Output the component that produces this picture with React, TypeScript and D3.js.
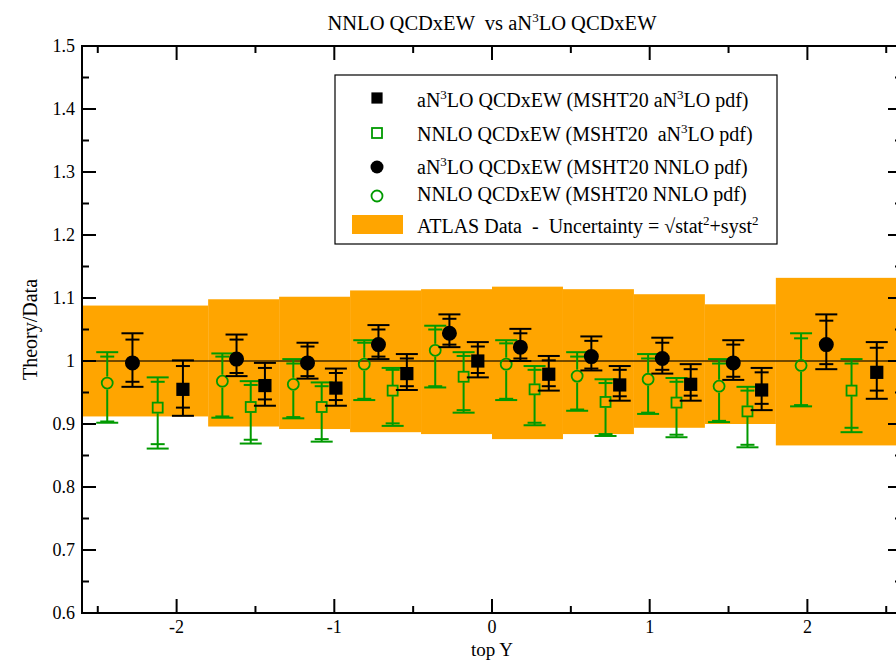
import React from 'react';
import * as d3 from 'd3';

const width = 896;
const height = 660;
const frame = { left: 82, right: 902, top: 46, bottom: 613 };
const font = '"Liberation Serif", "DejaVu Serif", serif';
const green = '#009a00';

// rapidity bins of the measurement
const binEdges = [-2.6, -1.8, -1.35, -0.9, -0.45, 0, 0.45, 0.9, 1.35, 1.8, 2.6];
// ATLAS data uncertainty band (theory/data = 1 +- total)
const bandHi = [1.088, 1.098, 1.102, 1.112, 1.114, 1.118, 1.114, 1.106, 1.09, 1.132];
const bandLo = [0.912, 0.896, 0.892, 0.887, 0.884, 0.876, 0.884, 0.894, 0.9, 0.866];

// [value, outer hi, inner hi, inner lo, outer lo] per bin
const nnloNnloPdf = [
  [0.965, 1.014, 1.007, 0.904, 0.902],
  [0.968, 1.012, 1.007, 0.912, 0.91],
  [0.963, 1.003, 0.996, 0.911, 0.909],
  [0.995, 1.033, 1.029, 0.94, 0.938],
  [1.017, 1.056, 1.05, 0.96, 0.958],
  [0.995, 1.033, 1.028, 0.94, 0.938],
  [0.976, 1.014, 1.007, 0.923, 0.921],
  [0.971, 1.011, 1.004, 0.918, 0.916],
  [0.96, 1.003, 0.996, 0.905, 0.903],
  [0.993, 1.044, 1.036, 0.93, 0.928]
];
const an3loNnloPdf = [
  [0.997, 1.044, 1.034, 0.967, 0.959],
  [1.003, 1.042, 1.034, 0.981, 0.976],
  [0.997, 1.029, 1.023, 0.976, 0.972],
  [1.026, 1.057, 1.05, 1.007, 1.003],
  [1.044, 1.074, 1.067, 1.026, 1.022],
  [1.022, 1.051, 1.044, 1.004, 1.0],
  [1.007, 1.039, 1.032, 0.988, 0.985],
  [1.004, 1.037, 1.029, 0.986, 0.98],
  [0.997, 1.033, 1.026, 0.975, 0.97],
  [1.026, 1.074, 1.064, 0.995, 0.987]
];
const nnloAn3loPdf = [
  [0.926, 0.974, 0.967, 0.868, 0.861],
  [0.927, 0.968, 0.962, 0.875, 0.869],
  [0.927, 0.966, 0.96, 0.876, 0.872],
  [0.953, 0.989, 0.986, 0.901, 0.897],
  [0.975, 1.014, 1.008, 0.922, 0.918],
  [0.955, 0.992, 0.986, 0.902, 0.898],
  [0.935, 0.971, 0.965, 0.884, 0.881],
  [0.934, 0.973, 0.967, 0.883, 0.879],
  [0.92, 0.959, 0.953, 0.867, 0.863],
  [0.953, 1.003, 0.996, 0.894, 0.887]
];
const an3loAn3loPdf = [
  [0.955, 1.001, 0.992, 0.926, 0.913],
  [0.961, 0.997, 0.989, 0.939, 0.929],
  [0.957, 0.988, 0.981, 0.938, 0.929],
  [0.98, 1.011, 1.004, 0.96, 0.954],
  [1.0, 1.03, 1.023, 0.981, 0.974],
  [0.979, 1.008, 1.001, 0.96, 0.953],
  [0.962, 0.992, 0.986, 0.944, 0.937],
  [0.963, 0.995, 0.987, 0.945, 0.937],
  [0.954, 0.989, 0.982, 0.932, 0.922],
  [0.982, 1.03, 1.021, 0.953, 0.94]
];

const xMajor = [-2, -1, 0, 1, 2];
const xMinor = [-2.5, -1.5, -0.5, 0.5, 1.5, 2.5];
const yMajor = [0.6, 0.7, 0.8, 0.9, 1.0, 1.1, 1.2, 1.3, 1.4, 1.5];
const yMinor = [0.65, 0.75, 0.85, 0.95, 1.05, 1.15, 1.25, 1.35, 1.45];

const titleText = 'NNLO QCDxEW  vs aN^3LO QCDxEW';
const legendTexts = [
  'aN^3LO QCDxEW (MSHT20 aN^3LO pdf)',
  'NNLO QCDxEW (MSHT20  aN^3LO pdf)',
  'aN^3LO QCDxEW (MSHT20 NNLO pdf)',
  'NNLO QCDxEW (MSHT20 NNLO pdf)',
  'ATLAS Data  -  Uncertainty = √stat^2+syst^2'
];

const x = d3.scaleLinear().domain([-2.6, 2.6]).range([frame.left, frame.right]);
const y = d3.scaleLinear().domain([0.6, 1.5]).range([frame.bottom, frame.top]);

// slot = position inside the bin, in fifths
const series = [
  { key: 'nnloNnlo', pts: nnloNnloPdf, color: green, shape: 'circle', filled: false, slot: 1 },
  { key: 'an3loNnlo', pts: an3loNnloPdf, color: '#000', shape: 'circle', filled: true, slot: 2 },
  { key: 'nnloAn3lo', pts: nnloAn3loPdf, color: green, shape: 'square', filled: false, slot: 3 },
  { key: 'an3loAn3lo', pts: an3loAn3loPdf, color: '#000', shape: 'square', filled: true, slot: 4 }
];

function Marker({ cx, cy, shape, filled, color }) {
  if (shape === 'circle') {
    return filled ? (
      <circle cx={cx} cy={cy} r={6.5} fill={color} />
    ) : (
      <circle cx={cx} cy={cy} r={5.5} fill="none" stroke={color} strokeWidth={1.8} />
    );
  }
  return filled ? (
    <rect x={cx - 5.6} y={cy - 5.6} width={11.2} height={11.2} fill={color} />
  ) : (
    <rect x={cx - 5} y={cy - 5} width={10} height={10} fill="none" stroke={color} strokeWidth={1.8} />
  );
}

// "a^3b" -> tspans with the single character after ^ raised
function rich(s: string) {
  const parts: { t: string; sup: boolean }[] = [];
  let buf = '';
  for (let i = 0; i < s.length; i++) {
    if (s[i] === '^') {
      if (buf) parts.push({ t: buf, sup: false });
      parts.push({ t: s[i + 1], sup: true });
      buf = '';
      i++;
    } else buf += s[i];
  }
  if (buf) parts.push({ t: buf, sup: false });
  let raised = false;
  return parts.map((p, i) => {
    let dy = 0;
    if (p.sup && !raised) dy = -8;
    if (!p.sup && raised) dy = 8;
    raised = p.sup;
    return (
      <tspan key={i} dy={dy} fontSize={p.sup ? 13 : undefined}>
        {p.t}
      </tspan>
    );
  });
}

const legendRows = [
  { shape: 'square', filled: true, color: '#000', y: 98, ty: 107 },
  { shape: 'square', filled: false, color: green, y: 133, ty: 141 },
  { shape: 'circle', filled: true, color: '#000', y: 167, ty: 174 },
  { shape: 'circle', filled: false, color: green, y: 196, ty: 201 }
];

export default function App() {
  const bins = d3.range(binEdges.length - 1);
  return (
    <svg
      width={width}
      height={height}
      style={{ position: 'absolute', left: 0, top: 0, background: '#fff' }}
      fontFamily={font}
    >
      <defs>
        <clipPath id="plot">
          <rect x={frame.left} y={frame.top} width={frame.right - frame.left} height={frame.bottom - frame.top} />
        </clipPath>
      </defs>

      <g clipPath="url(#plot)">
        {bins.map(i => (
          <rect
            key={'b' + i}
            x={x(binEdges[i])}
            y={y(bandHi[i])}
            width={x(binEdges[i + 1]) - x(binEdges[i])}
            height={y(bandLo[i]) - y(bandHi[i])}
            fill="#ffa500"
          />
        ))}
        <line x1={frame.left} x2={frame.right} y1={y(1)} y2={y(1)} stroke="#000" strokeOpacity={0.75} strokeWidth={1.6} />

        {series.map(s =>
          s.pts.map((p, i) => {
            const lo = binEdges[i];
            const hi = binEdges[i + 1];
            const cx = x(lo + ((hi - lo) * s.slot) / 5);
            const [v, oh, ih, il, ol] = p;
            const r = s.shape === 'circle' ? 6.5 : 5.6;
            return (
              <g key={s.key + i} stroke={s.color} strokeWidth={2} fill="none">
                <line x1={cx} x2={cx} y1={y(oh)} y2={y(v) - r} />
                <line x1={cx} x2={cx} y1={y(v) + r} y2={y(ol)} />
                <line x1={cx - 11} x2={cx + 11} y1={y(oh)} y2={y(oh)} />
                <line x1={cx - 11} x2={cx + 11} y1={y(ol)} y2={y(ol)} />
                <line x1={cx - 7} x2={cx + 7} y1={y(ih)} y2={y(ih)} />
                <line x1={cx - 7} x2={cx + 7} y1={y(il)} y2={y(il)} />
                <Marker cx={cx} cy={y(v)} shape={s.shape} filled={s.filled} color={s.color} />
              </g>
            );
          })
        )}

        {/* ticks, all pointing inward */}
        <g stroke="#000" strokeWidth={2}>
          {xMajor.map(t => (
            <g key={'xm' + t}>
              <line x1={x(t)} x2={x(t)} y1={frame.bottom} y2={frame.bottom - 14} />
              <line x1={x(t)} x2={x(t)} y1={frame.top} y2={frame.top + 14} />
            </g>
          ))}
          {xMinor.map(t => (
            <g key={'xn' + t}>
              <line x1={x(t)} x2={x(t)} y1={frame.bottom} y2={frame.bottom - 7} />
              <line x1={x(t)} x2={x(t)} y1={frame.top} y2={frame.top + 7} />
            </g>
          ))}
          {yMajor.map(t => (
            <g key={'ym' + t}>
              <line x1={frame.left} x2={frame.left + 14} y1={y(t)} y2={y(t)} />
              <line x1={frame.right} x2={frame.right - 14} y1={y(t)} y2={y(t)} />
            </g>
          ))}
          {yMinor.map(t => (
            <g key={'yn' + t}>
              <line x1={frame.left} x2={frame.left + 7} y1={y(t)} y2={y(t)} />
              <line x1={frame.right} x2={frame.right - 7} y1={y(t)} y2={y(t)} />
            </g>
          ))}
        </g>
      </g>

      <rect
        x={frame.left}
        y={frame.top}
        width={frame.right - frame.left}
        height={frame.bottom - frame.top}
        fill="none"
        stroke="#000"
        strokeWidth={2}
      />

      {/* tick labels */}
      <g fontSize={18} fill="#000">
        {xMajor.map(t => (
          <text key={'xl' + t} x={x(t)} y={633} textAnchor="middle">
            {String(t)}
          </text>
        ))}
        {yMajor.map(t => (
          <text key={'yl' + t} x={75} y={y(t) + 6} textAnchor="end">
            {String(+t.toFixed(1))}
          </text>
        ))}
      </g>

      <text x={x(0)} y={656} fontSize={19} textAnchor="middle">top Y</text>
      <text transform={`translate(37, ${(frame.top + frame.bottom) / 2}) rotate(-90)`} fontSize={20} textAnchor="middle">
        Theory/Data
      </text>

      <text x={x(0)} y={30} fontSize={20.5} textAnchor="middle" style={{ whiteSpace: 'pre' }}>
        {rich(titleText)}
      </text>

      {/* legend */}
      <g>
        <rect x={335} y={75} width={442} height={169} fill="#fff" stroke="#000" strokeWidth={1.2} />
        {legendRows.map((r, i) => (
          <g key={'lg' + i}>
            <Marker cx={377} cy={r.y} shape={r.shape} filled={r.filled} color={r.color} />
            <text x={417} y={r.ty} fontSize={20} style={{ whiteSpace: 'pre' }}>
              {rich(legendTexts[i])}
            </text>
          </g>
        ))}
        <rect x={352} y={215} width={51} height={19} fill="#ffa500" />
        <text x={417} y={233} fontSize={20} style={{ whiteSpace: 'pre' }}>
          {rich(legendTexts[4])}
        </text>
      </g>
    </svg>
  );
}
